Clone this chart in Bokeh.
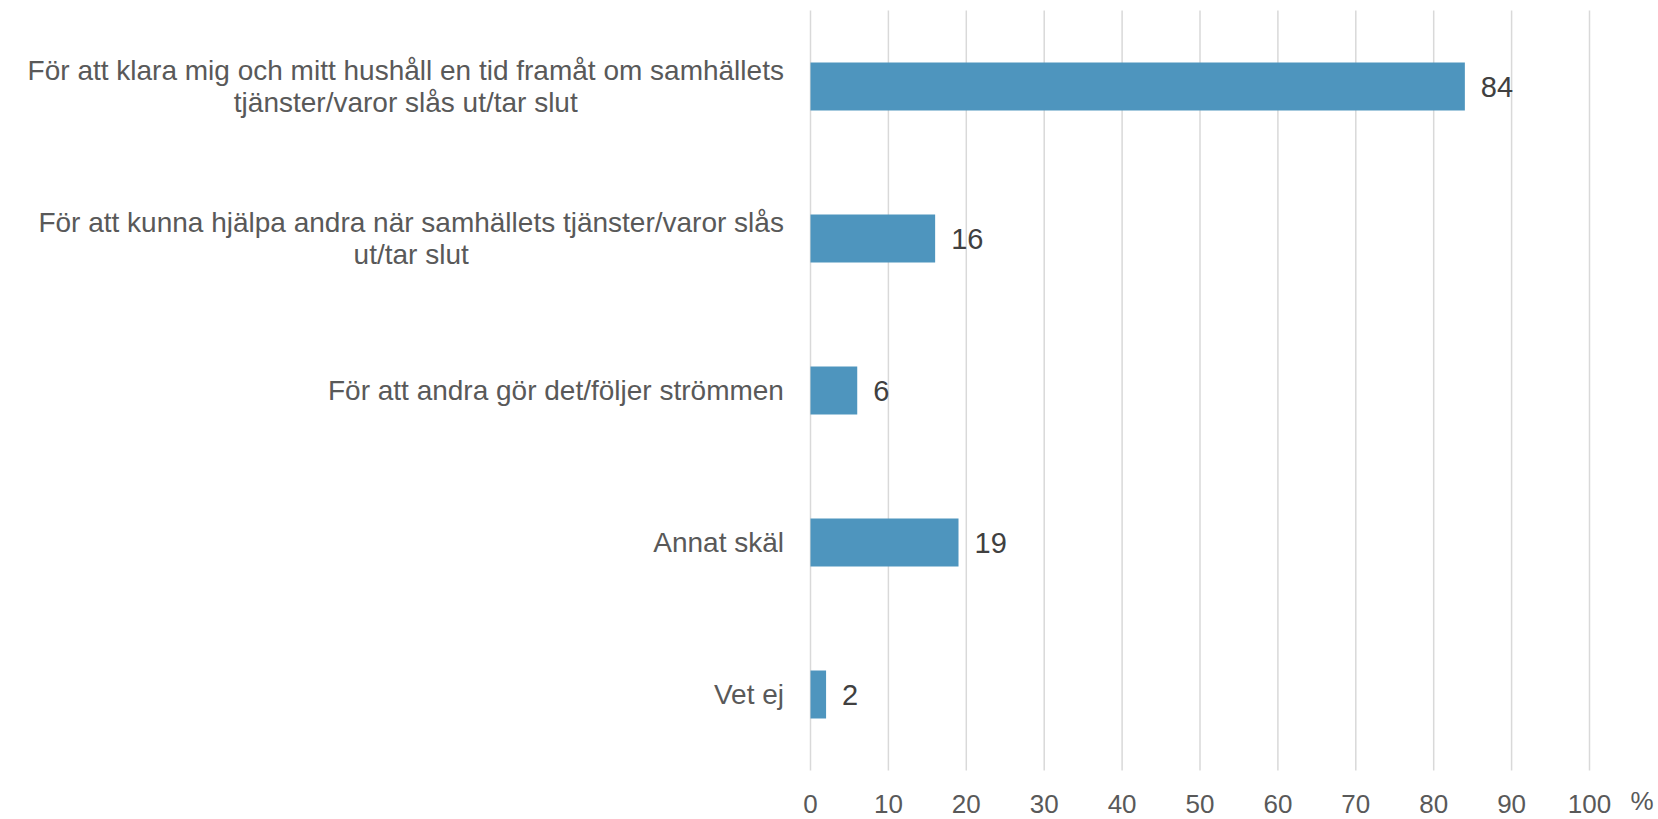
import glob
from bokeh.plotting import figure
from bokeh.models import Range1d, ColumnDataSource
from bokeh.core.properties import value
from bokeh.embed import file_html
from bokeh.resources import INLINE

# ---------------- data ----------------
categories = [
    "För att klara mig och mitt hushåll en tid framåt om samhällets\ntjänster/varor slås ut/tar slut",
    "För att kunna hjälpa andra när samhällets tjänster/varor slås\nut/tar slut",
    "För att andra gör det/följer strömmen",
    "Annat skäl",
    "Vet ej",
]
values = [84, 16, 6, 19, 2]
x_ticks = [0, 10, 20, 30, 40, 50, 60, 70, 80, 90, 100]
x_tick_labels = [str(t) for t in x_ticks]
unit_label = "%"

# ---------------- layout (pixels) ----------------
W, H = 1658, 819
ZERO_PX, FULL_PX = 810, 1589          # screen x of 0 and 100
BAND_TOP, BAND_BOTTOM = 10, 770        # screen y of category band
FONT = "Liberation Sans"
CAT_SIZE, VAL_SIZE, TICK_SIZE = 28, 29, 26
LABEL_GAP = 26.5
LINE_SPACING = 32

px_per_unit = (FULL_PX - ZERO_PX) / (x_ticks[-1] - x_ticks[0])
x_start = -ZERO_PX / px_per_unit
x_end = x_ticks[-1] + (W - FULL_PX) / px_per_unit
n = len(categories)
py_per_cat = (BAND_BOTTOM - BAND_TOP) / n
y_top = -0.5 - BAND_TOP / py_per_cat
y_bottom = n - 0.5 + (H - BAND_BOTTOM) / py_per_cat


def text_width(s, size):
    try:
        from PIL import ImageFont
        paths = glob.glob("/usr/share/fonts/**/LiberationSans-Regular.ttf", recursive=True)
        f = ImageFont.truetype(paths[0], size)
        return f.getlength(s)
    except Exception:
        return 0.48 * size * len(s)


p = figure(width=W, height=H, output_backend="svg", toolbar_location=None,
           x_range=Range1d(x_start, x_end), y_range=Range1d(y_bottom, y_top),
           x_axis_location=None, y_axis_location=None,
           min_border=0, min_border_left=0, min_border_right=0,
           min_border_top=0, min_border_bottom=0)
p.grid.visible = False
p.outline_line_color = None
p.background_fill_color = "white"
p.border_fill_color = "white"

ypos = list(range(n))

# gridlines at ticks
p.segment(x0=x_ticks, x1=x_ticks, y0=[-0.5] * len(x_ticks), y1=[n - 0.5] * len(x_ticks),
          line_color="#D9D9D9", line_width=1.5)

# bars
p.hbar(y=ypos, left=0, right=values, height=48 / py_per_cat,
       fill_color="#4E95BE", line_color=None)

# value labels
p.text(x=values, y=ypos, text=[str(v) for v in values], x_offset=16,
       text_align="left", text_baseline="middle",
       text_font=value(FONT), text_font_size=f"{VAL_SIZE}px", text_color="#404040")

# category labels (lines centered, block right-aligned)
lx, ly, lt, loff = [], [], [], []
for i, cat in enumerate(categories):
    lines = cat.split("\n")
    w = max(text_width(l, CAT_SIZE) for l in lines)
    right_px = ZERO_PX - LABEL_GAP
    center_x = (right_px - w / 2 - ZERO_PX) / px_per_unit
    for j, l in enumerate(lines):
        lx.append(center_x)
        ly.append(i)
        lt.append(l)
        loff.append((j - (len(lines) - 1) / 2) * LINE_SPACING)
src = ColumnDataSource(dict(x=lx, y=ly, text=lt, yo=loff))
p.text(x="x", y="y", text="text", y_offset="yo", source=src,
       text_align="center", text_baseline="middle",
       text_font=value(FONT), text_font_size=f"{CAT_SIZE}px", text_color="#595959")

# x tick labels
p.text(x=x_ticks, y=[n - 0.5] * len(x_ticks), text=x_tick_labels, y_offset=33,
       text_align="center", text_baseline="middle",
       text_font=value(FONT), text_font_size=f"{TICK_SIZE}px", text_color="#595959")
p.text(x=[x_ticks[-1]], y=[n - 0.5], text=[unit_label], x_offset=41, y_offset=30,
       text_align="left", text_baseline="middle",
       text_font=value(FONT), text_font_size=f"{TICK_SIZE}px", text_color="#595959")

open("out.html", "w").write(file_html(p, INLINE))
